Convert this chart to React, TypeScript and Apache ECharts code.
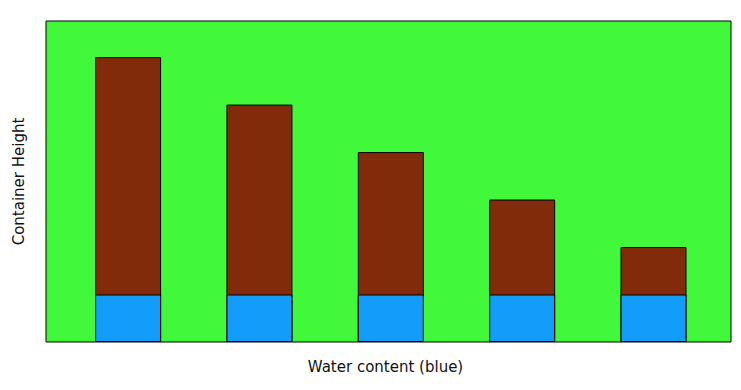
import React, { useEffect, useRef } from "react";
import * as echarts from "echarts";

const positions = [0, 1, 2, 3, 4];
const waterValues = [1, 1, 1, 1, 1];
const soilValues = [5, 4, 3, 2, 1];
const xAxisTitle = "Water content (blue)";
const yAxisTitle = "Container Height";

export default function App() {
  const ref = useRef<HTMLDivElement>(null);
  useEffect(() => {
    if (!ref.current) return;
    const chart = echarts.init(ref.current, undefined, { renderer: "svg" });
    const totals = positions.map((p, i) => [p, waterValues[i] + soilValues[i]]);
    chart.setOption({
      animation: false,
      backgroundColor: "#ffffff",
      grid: {
        left: 46,
        top: 21,
        right: 10,
        bottom: 48,
        show: true,
        backgroundColor: "#41f83b",
        borderColor: "#000000",
        borderWidth: 1,
      },
      xAxis: {
        type: "value",
        min: -0.625,
        max: 4.59,
        axisLine: { show: false },
        axisTick: { show: false },
        axisLabel: { show: false },
        splitLine: { show: false },
        name: xAxisTitle,
        nameLocation: "middle",
        nameGap: 17,
        nameTextStyle: {
          fontFamily: "DejaVu Sans",
          fontSize: 15,
          color: "#111",
          padding: [0, 6, 0, 0],
        },
      },
      yAxis: {
        type: "value",
        min: 0,
        max: 6.76,
        axisLine: { show: false },
        axisTick: { show: false },
        axisLabel: { show: false },
        splitLine: { show: false },
        name: yAxisTitle,
        nameLocation: "middle",
        nameGap: 20,
        nameTextStyle: { fontFamily: "DejaVu Sans", fontSize: 15, color: "#111" },
      },
      series: [
        {
          type: "bar",
          barWidth: 66,
          barGap: "-100%",
          data: totals,
          itemStyle: { color: "#822b0a", borderColor: "#000", borderWidth: 1 },
        },
        {
          type: "bar",
          barWidth: 66,
          barGap: "-100%",
          data: positions.map((p, i) => [p, waterValues[i]]),
          itemStyle: { color: "#129dfa", borderColor: "#000", borderWidth: 1 },
        },
      ],
    });
    return () => chart.dispose();
  }, []);
  return (
    <div
      ref={ref}
      style={{ position: "fixed", left: 0, top: 0, width: 741, height: 390 }}
    />
  );
}
